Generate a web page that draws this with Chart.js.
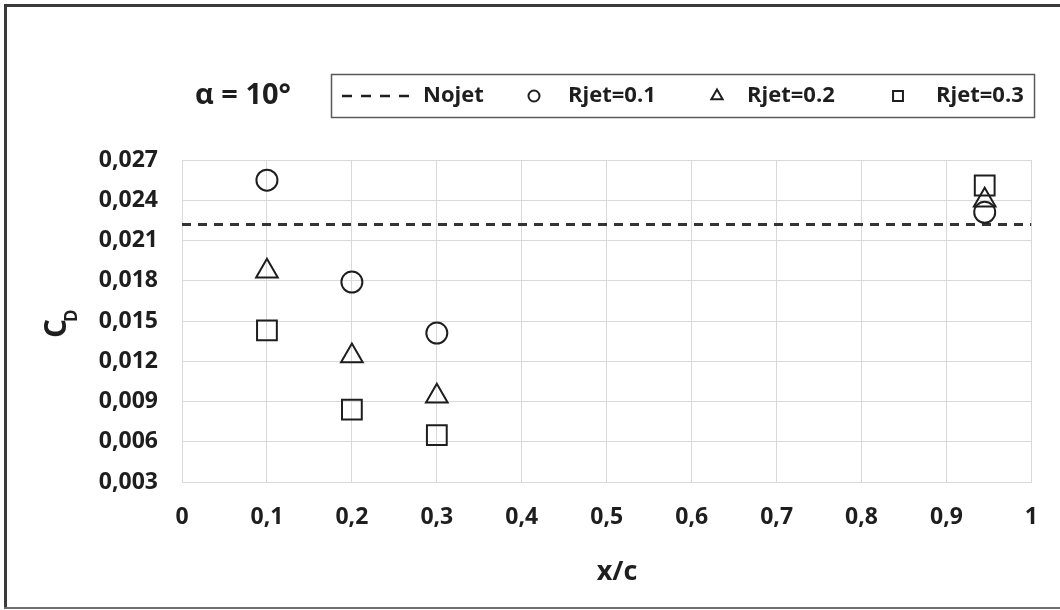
<!DOCTYPE html>
<html>
<head>
<meta charset="utf-8">
<title>CD vs x/c, alpha = 10</title>
<script src="https://cdn.jsdelivr.net/npm/chart.js"></script>
<style>
  html, body { margin: 0; padding: 0; background: #fff; }
  #wrap { width: 1060px; height: 610px; }
</style>
</head>
<body>
<div id="wrap"><canvas id="cdChart" width="1060" height="610"></canvas></div>
<script>
// jet positions (x/c) and drag coefficients
const jetX = [0.1, 0.2, 0.3, 0.945];
const cdRjet01 = [0.0255, 0.0179, 0.0141, 0.0231];
const cdRjet02 = [0.0187, 0.0124, 0.0094, 0.0240];
const cdRjet03 = [0.0143, 0.0084, 0.0065, 0.0251];

// baseline without jet (horizontal dashed line across the plot)
const nojetX = [0, 1];
const cdNojet = [0.0222, 0.0222];

const seriesLabels = ['Nojet', 'Rjet=0.1', 'Rjet=0.2', 'Rjet=0.3'];
const xTickLabels = ['0', '0,1', '0,2', '0,3', '0,4', '0,5', '0,6', '0,7', '0,8', '0,9', '1'];
const yTickLabels = ['0,003', '0,006', '0,009', '0,012', '0,015', '0,018', '0,021', '0,024', '0,027'];
const angleLabel = 'α = 10°';
const xTitle = 'x/c';
const yTitle = 'C';
const yTitleSub = 'D';

const inkColor = '#1e1e1e';
const gridColor = '#d9d9d9';
const fontFamily = "'Open Sans', 'DejaVu Sans', sans-serif";

/**
 * Pair x and y arrays into scatter points.
 */
function toPoints(xs, ys) {
  return xs.map((x, i) => ({ x: x, y: ys[i] }));
}

/**
 * Marker dataset with hollow symbols.
 */
function markerDataset(label, ys, style, radius) {
  return {
    label: label,
    data: toPoints(jetX, ys),
    pointStyle: style,
    pointRadius: radius,
    pointHoverRadius: radius,
    pointBorderWidth: 2,
    borderColor: inkColor,
    backgroundColor: 'rgba(0,0,0,0)',
    showLine: false,
  };
}

/**
 * Frame, angle label, boxed legend and axis titles.
 */
const decorations = {
  id: 'decorations',
  afterDraw(chart) {
    const ctx = chart.ctx;
    ctx.save();

    // outer frame: left, top, bottom
    ctx.strokeStyle = '#3a3a3a';
    ctx.lineWidth = 3;
    ctx.beginPath();
    ctx.moveTo(1060, 5.5);
    ctx.lineTo(5.5, 5.5);
    ctx.lineTo(5.5, 609);
    ctx.stroke();
    ctx.strokeStyle = '#6e6e6e';
    ctx.lineWidth = 2;
    ctx.beginPath();
    ctx.moveTo(4, 608);
    ctx.lineTo(1060, 608);
    ctx.stroke();

    // angle of attack
    ctx.fillStyle = inkColor;
    ctx.font = 'bold 29px ' + fontFamily;
    ctx.textAlign = 'left';
    ctx.textBaseline = 'middle';
    ctx.fillText(angleLabel, 195, 96);

    // legend box
    const rowY = 96;
    ctx.strokeStyle = '#5a5a5a';
    ctx.lineWidth = 1.5;
    ctx.strokeRect(331.5, 74.5, 703, 43);

    const symbolX = [379, 534, 717, 898];
    const textX = [423, 568, 747, 936];
    const styles = [null, 'circle', 'triangle', 'rect'];
    const radii = [0, 5.5, 6.5, 7];
    ctx.font = 'bold 22px ' + fontFamily;
    seriesLabels.forEach((label, i) => {
      ctx.strokeStyle = inkColor;
      if (i === 0) {
        ctx.lineWidth = 2.5;
        ctx.setLineDash([10, 9]);
        ctx.beginPath();
        ctx.moveTo(342, rowY);
        ctx.lineTo(410, rowY);
        ctx.stroke();
        ctx.setLineDash([]);
      } else {
        ctx.lineWidth = 2;
        ctx.fillStyle = 'rgba(0,0,0,0)';
        Chart.helpers.drawPoint(ctx, { pointStyle: styles[i], radius: radii[i], borderWidth: 2, rotation: 0 }, symbolX[i], rowY);
      }
      ctx.fillStyle = inkColor;
      ctx.fillText(label, textX[i], rowY);
    });

    // x axis title
    ctx.textAlign = 'center';
    ctx.font = 'bold 27px ' + fontFamily;
    ctx.fillText(xTitle, 617, 572);

    // y axis title C with subscript D, rotated
    ctx.textAlign = 'left';
    ctx.translate(66, 338);
    ctx.rotate(-Math.PI / 2);
    ctx.textBaseline = 'alphabetic';
    ctx.font = 'bold 30px ' + fontFamily;
    ctx.fillText(yTitle, 0, 0);
    const cWidth = ctx.measureText(yTitle).width;
    ctx.font = 'bold 17px ' + fontFamily;
    ctx.fillText(yTitleSub, cWidth - 3, 11);

    ctx.restore();
  },
};

const ctx = document.getElementById('cdChart').getContext('2d');
new Chart(ctx, {
  type: 'scatter',
  data: {
    datasets: [
      markerDataset(seriesLabels[1], cdRjet01, 'circle', 10.5),
      markerDataset(seriesLabels[2], cdRjet02, 'triangle', 12.5),
      markerDataset(seriesLabels[3], cdRjet03, 'rect', 14),
      {
        label: seriesLabels[0],
        data: toPoints(nojetX, cdNojet),
        showLine: true,
        borderColor: '#333333',
        borderWidth: 3,
        borderDash: [9, 7],
        pointRadius: 0,
        pointHoverRadius: 0,
      },
    ],
  },
  options: {
    responsive: false,
    animation: false,
    devicePixelRatio: 1,
    layout: { autoPadding: false, padding: { top: 160, right: 22, left: 0, bottom: 0 } },
    plugins: {
      legend: { display: false },
      tooltip: { enabled: false },
    },
    scales: {
      x: {
        type: 'linear',
        min: 0,
        max: 1,
        ticks: {
          stepSize: 0.1,
          color: inkColor,
          padding: 22,
          font: { family: fontFamily, size: 23, weight: 'bold' },
          callback: (value, index) => xTickLabels[index],
        },
        grid: { color: gridColor, lineWidth: 1, drawTicks: false },
        border: { color: gridColor },
        afterFit: (scale) => { scale.height = 128; },
      },
      y: {
        type: 'linear',
        min: 0.003,
        max: 0.027,
        ticks: {
          stepSize: 0.003,
          color: inkColor,
          padding: 24,
          font: { family: fontFamily, size: 23, weight: 'bold' },
          callback: (value, index) => yTickLabels[index],
        },
        grid: { color: gridColor, lineWidth: 1, drawTicks: false },
        border: { color: gridColor },
        afterFit: (scale) => { scale.width = 182; },
      },
    },
  },
  plugins: [decorations],
});
</script>
</body>
</html>
